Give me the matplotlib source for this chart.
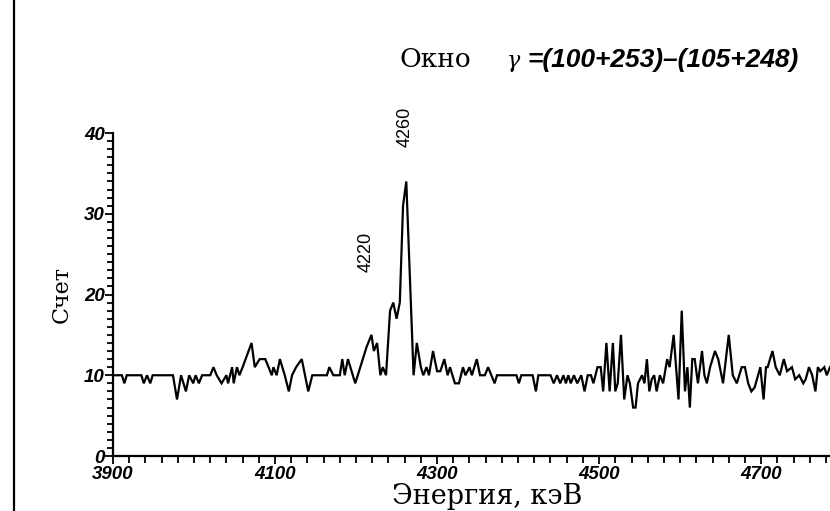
import matplotlib
matplotlib.use('Agg')
import matplotlib.pyplot as plt
from matplotlib.ticker import MultipleLocator

# spectrum vertices (energy keV, counts)
energy = [3900, 3911, 3914, 3917, 3935, 3938, 3942, 3946, 3949, 3974,
          3979, 3984, 3990, 3994, 3999, 4002, 4006, 4010, 4020, 4024,
          4028, 4034, 4040, 4042, 4047, 4049, 4053, 4056, 4060, 4071,
          4075, 4081, 4088, 4092, 4096, 4098, 4102, 4106, 4112, 4117,
          4121, 4126, 4133, 4141, 4146, 4164, 4167, 4172, 4180, 4183,
          4186, 4190, 4199, 4213, 4219, 4222, 4226, 4230, 4233, 4237,
          4242, 4246, 4250, 4254, 4258, 4262, 4271, 4275, 4280, 4283,
          4287, 4290, 4295, 4300, 4304, 4309, 4313, 4316, 4319, 4322,
          4327, 4332, 4335, 4340, 4343, 4346, 4349, 4353, 4359, 4363,
          4367, 4371, 4374, 4398, 4401, 4404, 4418, 4422, 4425, 4440,
          4444, 4448, 4452, 4456, 4459, 4462, 4465, 4469, 4473, 4478,
          4482, 4486, 4490, 4493, 4498, 4502, 4505, 4509, 4513, 4517,
          4520, 4523, 4527, 4531, 4535, 4538, 4542, 4545, 4548, 4553,
          4556, 4559, 4562, 4565, 4568, 4571, 4575, 4579, 4584, 4587,
          4592, 4598, 4602, 4606, 4609, 4612, 4615, 4618, 4622, 4627,
          4630, 4633, 4637, 4643, 4647, 4653, 4660, 4665, 4670, 4676,
          4680, 4684, 4688, 4692, 4699, 4703, 4706, 4708, 4714, 4718,
          4723, 4728, 4732, 4738, 4742, 4747, 4752, 4755, 4759, 4763,
          4767, 4770, 4773, 4778, 4781, 4785]
counts = [10, 10, 9, 10, 10, 9, 10, 9, 10, 10,
          7, 10, 8, 10, 9, 10, 9, 10, 10, 11,
          10, 9, 10, 9, 11, 9, 11, 10, 11, 14,
          11, 12, 12, 11, 10, 11, 10, 12, 10, 8,
          10, 11, 12, 8, 10, 10, 11, 10, 10, 12,
          10, 12, 9, 13.5, 15, 13, 14, 10, 11, 10,
          18, 19, 17, 19, 31, 34, 10, 14, 11, 10,
          11, 10, 13, 10.5, 10.5, 12, 10, 11, 10, 9,
          9, 11, 10, 11, 10, 11, 12, 10, 10, 11,
          10, 9, 10, 10, 9, 10, 10, 8, 10, 10,
          9, 10, 9, 10, 9, 10, 9, 10, 9, 10,
          8, 10, 10, 9, 11, 11, 8, 14, 8, 14,
          8, 9, 15, 7, 10, 9, 6, 6, 9, 10,
          9, 12, 8, 9.5, 10, 8, 10, 9, 12, 11,
          15, 7, 18, 8, 11, 6, 12, 12, 9, 13,
          10, 9, 11, 13, 12, 9, 15, 10, 9, 11,
          11, 9, 8, 8.5, 11, 7, 11, 11, 13, 11,
          10, 12, 10.5, 11, 9.5, 10, 9, 9.5, 11, 10,
          8, 11, 10.5, 11, 10, 11]

xticks = [3900, 4100, 4300, 4500, 4700]
yticks = [0, 10, 20, 30, 40]
peaks = [(4213, 25.3, '4220'), (4260, 40.8, '4260')]

W, H = 830, 511
fig = plt.figure(figsize=(W / 100, H / 100), dpi=100)
ax = fig.add_axes([113 / W, 55 / H, 717 / W, 323 / H])

ax.plot(energy, counts, color='black', lw=1.6, solid_joinstyle='miter')

ax.set_xlim(3900, 4785)
ax.set_ylim(0, 40)
for s in ['top', 'right']:
    ax.spines[s].set_visible(False)
for s in ['left', 'bottom']:
    ax.spines[s].set_linewidth(1.6)

ax.set_xticks(xticks)
ax.set_yticks(yticks)
ax.xaxis.set_minor_locator(MultipleLocator(20))
ax.yaxis.set_minor_locator(MultipleLocator(1))
ax.tick_params(axis='both', which='both', direction='out', width=1.3)
ax.tick_params(axis='y', which='major', length=6, pad=0)
ax.tick_params(axis='y', which='minor', length=4)
ax.tick_params(axis='x', which='major', length=6, pad=1)
ax.tick_params(axis='x', which='minor', length=5)
tick_font = dict(family='Liberation Sans', weight='bold', style='italic', size=13.5)
ax.set_xticklabels([str(t) for t in xticks], fontdict=tick_font)
ax.set_yticklabels([str(t) for t in yticks], fontdict=tick_font)

ax.set_xlabel('Энергия, кэВ', family='DejaVu Serif', fontsize=19.5, labelpad=0)
ax.xaxis.label.set_x((487 - 113) / 717)
ax.set_ylabel('Счет', family='DejaVu Serif', fontsize=16, labelpad=8)

for e, c, lab in peaks:
    ax.text(e, c, lab, rotation=90, ha='center', va='center',
            family='Liberation Sans', fontsize=13, clip_on=False)

fig.text(399 / W, 1 - 67 / H, 'Окно', family='DejaVu Serif', fontsize=19,
         va='baseline', ha='left')
fig.text(507 / W, 1 - 67 / H, 'γ', family='DejaVu Serif', style='italic',
         fontsize=16, va='baseline', ha='left')
fig.text(527 / W, 1 - 67 / H, '=(100+253)–(105+248)', family='Liberation Sans',
         weight='bold', style='italic', fontsize=19, va='baseline', ha='left')

# left edge of the scanned page
fig.add_artist(plt.Line2D([14 / W, 14 / W], [0, 1], color='black', lw=1.6))

fig.savefig('out.png', dpi=100)
